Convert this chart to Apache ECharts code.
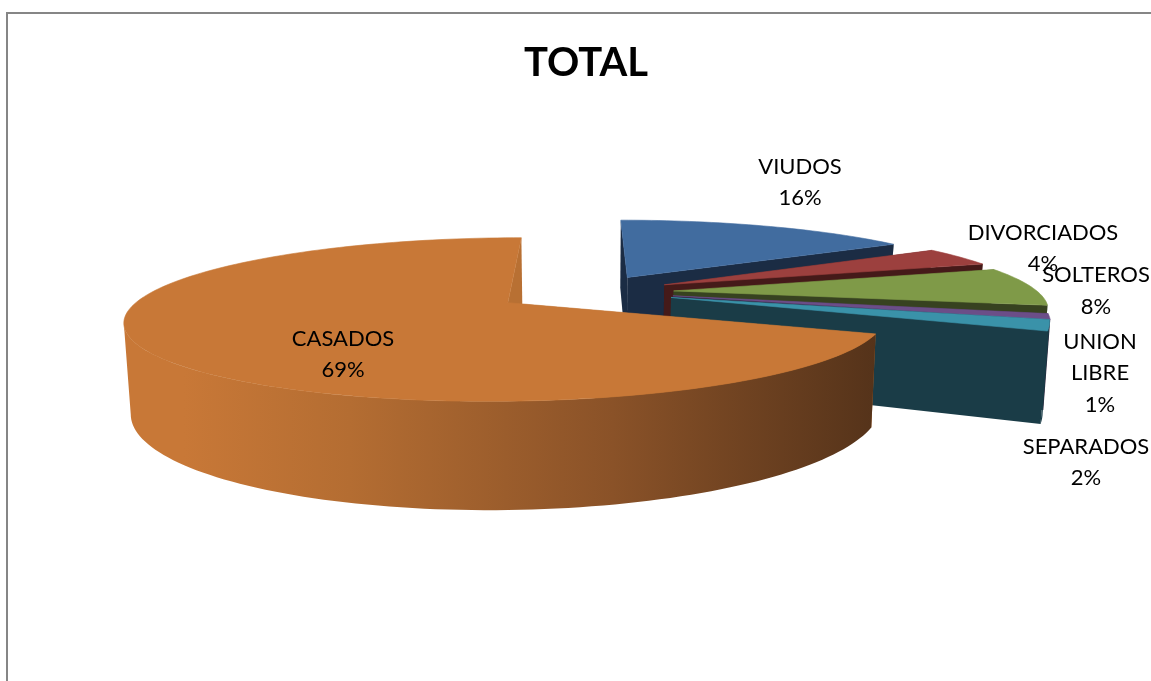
<!DOCTYPE html>
<html>
<head>
<meta charset="utf-8">
<style>html,body{margin:0;padding:0;background:#fff}#chart{width:1151px;height:681px}</style>
<script src="https://cdn.jsdelivr.net/npm/echarts@6/dist/echarts.min.js"></script>
</head>
<body>
<div id="chart"></div>
<script>
// Marital status shares, clockwise from twelve o'clock
const categories = ['VIUDOS', 'DIVORCIADOS', 'SOLTEROS', 'UNION LIBRE', 'SEPARADOS', 'CASADOS'];
const percentages = [16, 4, 8, 1, 2, 69];
const topColors = ['#416C9F', '#9C403E', '#7F9A48', '#6B4E88', '#3A92A9', '#C87837'];
const wallColors = ['#1B2C44', '#451A19', '#374220', '#2E2039', '#1A3C47', '#B87033'];
const labelCentres = [[800, 182.5], [1043, 248.5], [1096, 291], [1100, 373], [1086, 462.5], [343, 354.5]];

// How far each slice is pulled out, and its radius along each axis of the disc
const explosion = [0.234, 0.234, 0.234, 0.234, 0.234, 0.25];
const radialScale = [0.987, 0.987, 0.979, 0.96, 0.965, 0.972];
const depthScale = [1, 1, 1, 1.2, 1.1, 1];

// Projection of the tilted disc onto the page
const VIEW = { cx: 587, cy: 292, rx: 372, ry: 74, persp: 0.2, depth: 84, floor: 0.985 };
const RAD = Math.PI / 180;

function project(u, v, lower) {
  const f = 1 / (1 - VIEW.persp * v);
  return [
    VIEW.cx + VIEW.rx * u * f * (lower ? VIEW.floor : 1),
    VIEW.cy + VIEW.ry * v * f + (lower ? VIEW.depth * f : 0)
  ];
}

const total = percentages.reduce((s, p) => s + p, 0);
const startAngles = percentages.map((_, i) =>
  percentages.slice(0, i).reduce((s, p) => s + p, 0) / total * 360);

const sideGradient = new echarts.graphic.LinearGradient(0, 0, 1, 0, [
  { offset: 0, color: '#C87837' },
  { offset: 0.08, color: '#C87837' },
  { offset: 0.3, color: '#B46D32' },
  { offset: 0.65, color: '#8A5228' },
  { offset: 1, color: '#55331A' }
]);

function renderSlice(params, api) {
  const i = api.value(0);
  const sweep = api.value(1) / total * 360;
  const a0 = startAngles[i];
  const a1 = a0 + sweep;
  const mid = (a0 + a1) / 2 * RAD;
  const ou = explosion[i] * Math.sin(mid);
  const ov = -explosion[i] * Math.cos(mid);
  const rim = (deg, lower) =>
    project(ou + radialScale[i] * Math.sin(deg * RAD), ov - depthScale[i] * Math.cos(deg * RAD), lower);
  const arc = (from, to, lower) => {
    const pts = [];
    const n = Math.max(2, Math.ceil((to - from) / 1.5));
    for (let k = 0; k <= n; k++) pts.push(rim(from + (to - from) * k / n, lower));
    return pts;
  };
  const apex = project(ou, ov, false);
  const apexLow = project(ou, ov, true);
  const poly = (points, fill, stroke) => ({
    type: 'polygon',
    shape: { points },
    style: stroke ? { fill, stroke: fill, lineWidth: 0.6 } : { fill },
    silent: true
  });

  const children = [
    poly([apex, rim(a0, false), rim(a0, true), apexLow], wallColors[i]),
    poly([apex, rim(a1, false), rim(a1, true), apexLow], wallColors[i])
  ];

  // The side wall runs between the rim's rightmost and leftmost points
  let from = a0, to = a1, maxX = -Infinity, minX = Infinity, leftAngle = a1;
  for (let d = a0; d <= a1; d += 0.5) {
    const x = rim(d, false)[0];
    if (x > maxX) { maxX = x; from = d; }
    if (x < minX) { minX = x; leftAngle = d; }
  }
  if (a1 > 180) to = leftAngle;
  if (to > from) {
    const side = arc(from, to, false).concat(arc(from, to, true).reverse());
    children.push(poly(side, i === 5 ? sideGradient : wallColors[i]));
  }

  children.push(poly([apex].concat(arc(a0, a1, false)), topColors[i], true));

  children.push({
    type: 'text',
    z2: 100,
    silent: true,
    style: {
      text: categories[i].split(' ').join('\n') + '\n' + api.value(1) + '%',
      x: labelCentres[i][0],
      y: labelCentres[i][1],
      align: 'center',
      verticalAlign: 'middle',
      font: '22px Lato',
      lineHeight: 31.5,
      fill: '#000'
    }
  });
  return { type: 'group', children };
}

const chart = echarts.init(document.getElementById('chart'));
chart.setOption({
  animation: false,
  backgroundColor: '#fff',
  title: {
    text: 'TOTAL',
    left: 581,
    top: 38,
    textAlign: 'center',
    textStyle: { fontFamily: 'Lato', fontWeight: 'bold', fontSize: 40, color: '#000' }
  },
  graphic: [{
    type: 'rect',
    shape: { x: 7, y: 13, width: 1170, height: 700 },
    style: { fill: 'none', stroke: '#868686', lineWidth: 2 },
    silent: true
  }],
  series: [{
    type: 'custom',
    coordinateSystem: 'none',
    renderItem: renderSlice,
    data: percentages.map((p, i) => [i, p])
  }]
});
</script>
</body>
</html>
